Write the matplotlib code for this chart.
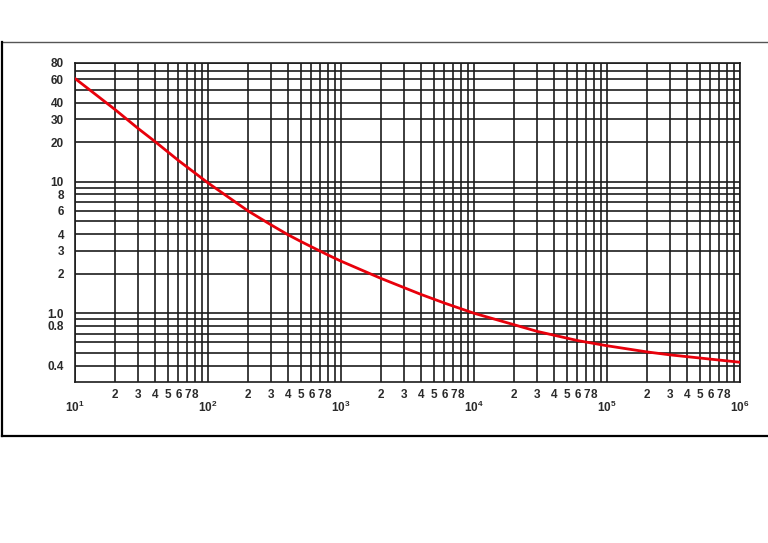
import matplotlib
matplotlib.use("Agg")
import matplotlib.pyplot as plt
from matplotlib.lines import Line2D

# ================= DATA =================
curve_x = [10, 20, 30, 40, 60, 100, 200, 300, 400, 500, 600, 800, 1000,
           2000, 4000, 6000, 10000, 20000, 30000, 60000, 100000, 200000,
           300000, 1000000]
curve_y = [61, 35.4, 25.3, 20.2, 14.5, 9.8, 6.0, 4.68, 3.95, 3.51, 3.2, 2.77,
           2.49, 1.84, 1.39, 1.195, 1.0, 0.818, 0.727, 0.62, 0.566, 0.508,
           0.482, 0.424]

y_grid = [0.4, 0.5, 0.6, 0.7, 0.8, 0.9, 1, 2, 3, 4, 5, 6, 7, 8, 9,
          10, 20, 30, 40, 50, 60, 70, 80]
y_labels = [0.4, 0.8, 1, 2, 3, 4, 6, 8, 10, 20, 30, 40, 60, 80]
y_label_text = ["0.4", "0.8", "1.0", "2", "3", "4", "6", "8", "10", "20",
                "30", "40", "60", "80"]

decades = [10, 100, 1000, 10000, 100000, 1000000]
decade_text = [r"$\mathbf{10^{%d}}$" % e for e in range(1, 7)]
minor_mult = [2, 3, 4, 5, 6, 7, 8, 9]
minor_text = ["2", "3", "4", "5", "6", "7", "8", ""]
# ========================================

plt.rcParams["font.family"] = "Liberation Sans"
plt.rcParams["mathtext.fontset"] = "custom"
plt.rcParams["mathtext.bf"] = "Liberation Sans:bold"
plt.rcParams["mathtext.rm"] = "Liberation Sans"

grid_color = "#1c1c1c"
label_color = "#2a2a2a"

fig = plt.figure(figsize=(7.68, 5.43), dpi=100)
ax = fig.add_axes([75 / 768, (543 - 382) / 543, 665 / 768, 319 / 543])

ax.set_xscale("log")
ax.set_yscale("log")
ax.set_xlim(10, 1e6)
ax.set_ylim(0.3, 80)

# vertical grid lines at every 1..9 multiple
x_minor = [d * m for d in decades[:-1] for m in minor_mult]
for xv in decades + x_minor:
    ax.axvline(xv, color=grid_color, lw=1.2, zorder=1)
for yv in y_grid:
    ax.axhline(yv, color=grid_color, lw=1.2, zorder=1)

ax.plot(curve_x, curve_y, color="#e8000b", lw=2.0, zorder=3,
        solid_capstyle="round", solid_joinstyle="round")

# tick labels
ax.set_xticks(decades)
ax.set_xticklabels(decade_text)
ax.set_xticks(x_minor, minor=True)
ax.set_xticklabels(minor_text * (len(decades) - 1), minor=True)
ax.set_yticks(y_labels)
ax.set_yticklabels(y_label_text)
ax.set_yticks([], minor=True)

ax.tick_params(axis="x", which="major", length=0, pad=13, labelsize=8.5,
               labelcolor=label_color)
ax.tick_params(axis="x", which="minor", length=0, pad=5, labelsize=8.5,
               labelcolor=label_color)
ax.tick_params(axis="y", which="both", length=0, pad=8, labelsize=8.5,
               labelcolor=label_color)
for lab in ax.get_xticklabels(minor=True) + ax.get_yticklabels():
    lab.set_fontweight("bold")

for s in ax.spines.values():
    s.set_color(grid_color)
    s.set_linewidth(1.2)

# outer frame (right side runs off the picture)
fig.add_artist(Line2D([2 / 768, 1.0], [1 - 42 / 543, 1 - 42 / 543],
                      color="#555555", lw=1.0))
fig.add_artist(Line2D([2 / 768, 2 / 768], [1 - 42 / 543, 1 - 435.5 / 543],
                      color="black", lw=1.6))
fig.add_artist(Line2D([2 / 768, 1.0], [1 - 435.5 / 543, 1 - 435.5 / 543],
                      color="black", lw=1.6))

fig.savefig("out.png", dpi=100)
